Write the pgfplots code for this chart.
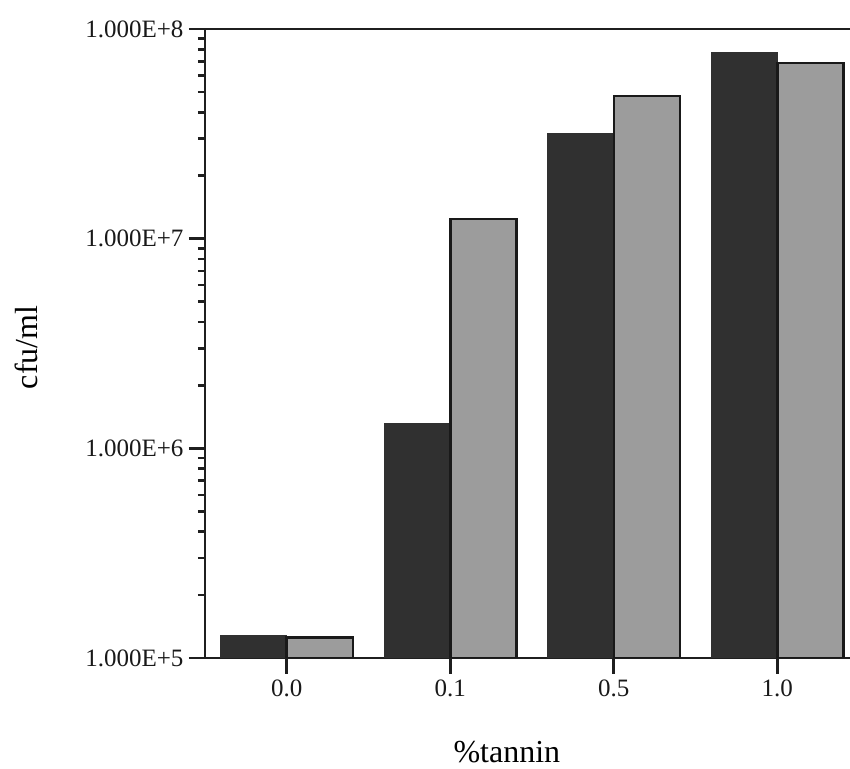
\documentclass[border=0pt]{standalone}
\usepackage{fontspec}
\setmainfont{Liberation Serif}
\usepackage{pgfplots}
\pgfplotsset{compat=1.18}
\definecolor{darkbar}{HTML}{303030}
\definecolor{graybar}{HTML}{9C9C9C}
\begin{document}
\begin{tikzpicture}
\path[use as bounding box] (-205pt,-110pt) rectangle (645pt,658pt);
\begin{axis}[
  at={(0,0)}, anchor=south west,
  scale only axis,
  width=645pt, height=629pt,
  ymode=log,
  ymin=1e5, ymax=1e8,
  xmin=-0.5, xmax=3.445,
  axis x line=box,
  axis y line=left,
  axis line style={-, line width=2.8pt, black!88},
  xtick pos=bottom,
  xtick={0,1,2,3},
  xticklabels={0.0,0.1,0.5,1.0},
  ytick={1e5,1e6,1e7,1e8},
  yticklabels={1.000E+5,1.000E+6,1.000E+7,1.000E+8},
  tick align=outside,
  major tick length=16pt,
  minor tick length=7pt,
  every tick/.style={black!88, line width=2.6pt},
  tick label style={font=\fontsize{25}{25}\selectfont, black!90},
  /pgf/number format/assume math mode=true,
  xticklabel style={yshift=-2pt},
  yticklabel style={xshift=-2pt},
  every axis y label/.style={at={(axis description cs:-0.2775,0.494)}, rotate=90, anchor=center, font=\fontsize{32}{32}\selectfont},
  every axis x label/.style={at={(axis description cs:0.468,-0.149)}, anchor=center, font=\fontsize{32}{32}\selectfont},
  ylabel={cfu/ml},
  xlabel={\%tannin},
  ybar,
  bar width=66pt,
  log origin=infty,
]
\addplot[bar shift=-33pt, fill=darkbar, draw=darkbar, line width=1pt] coordinates {(0,1.28e5) (1,1.32e6) (2,3.19e7) (3,7.76e7)};
\addplot[bar shift=33pt, fill=graybar, draw=black!90, line width=2.5pt] coordinates {(0,1.25e5) (1,1.24e7) (2,4.79e7) (3,6.88e7)};
\end{axis}
\end{tikzpicture}
\end{document}
